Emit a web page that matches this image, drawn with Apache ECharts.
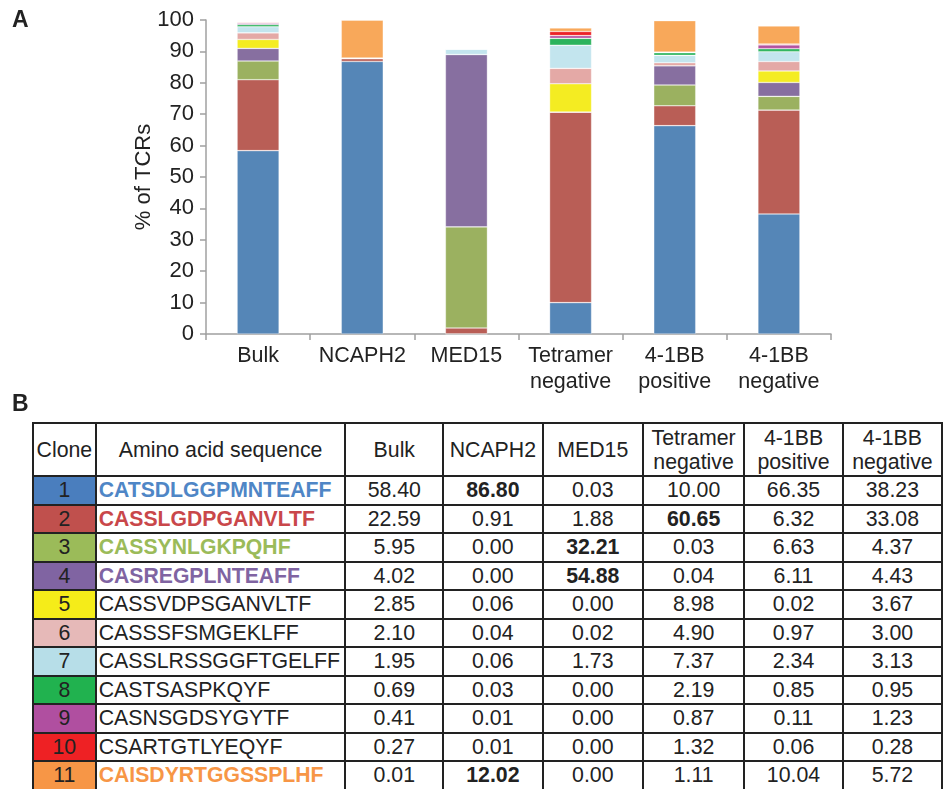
<!DOCTYPE html>
<html>
<head>
<meta charset="utf-8">
<script src="https://cdn.jsdelivr.net/npm/echarts@6/dist/echarts.min.js"></script>
<style>
  html, body { margin: 0; padding: 0; background: #fff; overflow: hidden; }
  body { width: 943px; height: 789px; position: relative; font-family: "Liberation Sans", Arial, sans-serif; color: #222; }
  #chart { position: absolute; left: 0; top: 0; width: 943px; height: 400px; }
  .panel { position: absolute; font-weight: bold; font-size: 23px; color: #222; }
  #tbl { position: absolute; left: 32px; top: 422px; border-collapse: collapse; table-layout: fixed; font-size: 21.3px; }
  #tbl td, #tbl th { border: 2px solid #222; padding: 0; text-align: center; font-weight: normal; white-space: nowrap; overflow: hidden; }
  #tbl th { height: 51px; line-height: 24px; }
  #tbl td { height: 26.5px; line-height: 26px; }
  #tbl td.seq { text-align: left; padding-left: 2px; }
  #tbl td.seq.hl { font-weight: bold; font-size: 21.2px; }
  #tbl td.b { font-weight: bold; }
</style>
</head>
<body>
<div id="chart"></div>
<div class="panel" style="left:12px; top:6px;">A</div>
<div class="panel" style="left:12px; top:390px;">B</div>
<table id="tbl"></table>
<script>
// Sample groups (x axis of the bar chart, columns of the table)
const groups = ['Bulk', 'NCAPH2', 'MED15', 'Tetramer\nnegative', '4-1BB\npositive', '4-1BB\nnegative'];

// Clone identifiers and their CDR3 amino acid sequences
const clones = ['1', '2', '3', '4', '5', '6', '7', '8', '9', '10', '11'];
const sequences = [
  'CATSDLGGPMNTEAFF', 'CASSLGDPGANVLTF', 'CASSYNLGKPQHF', 'CASREGPLNTEAFF',
  'CASSVDPSGANVLTF', 'CASSSFSMGEKLFF', 'CASSLRSSGGFTGELFF', 'CASTSASPKQYF',
  'CASNSGDSYGYTF', 'CSARTGTLYEQYF', 'CAISDYRTGGSSPLHF'
];

// % of TCRs per clone, one array per sample group
const bulk        = [58.40, 22.59, 5.95, 4.02, 2.85, 2.10, 1.95, 0.69, 0.41, 0.27, 0.01];
const ncaph2      = [86.80, 0.91, 0.00, 0.00, 0.06, 0.04, 0.06, 0.03, 0.01, 0.01, 12.02];
const med15       = [0.03, 1.88, 32.21, 54.88, 0.00, 0.02, 1.73, 0.00, 0.00, 0.00, 0.00];
const tetramerNeg = [10.00, 60.65, 0.03, 0.04, 8.98, 4.90, 7.37, 2.19, 0.87, 1.32, 1.11];
const bbPositive  = [66.35, 6.32, 6.63, 6.11, 0.02, 0.97, 2.34, 0.85, 0.11, 0.06, 10.04];
const bbNegative  = [38.23, 33.08, 4.37, 4.43, 3.67, 3.00, 3.13, 0.95, 1.23, 0.28, 5.72];
const groupValues = [bulk, ncaph2, med15, tetramerNeg, bbPositive, bbNegative];

// Y axis ticks
const yTicks = [0, 10, 20, 30, 40, 50, 60, 70, 80, 90, 100];

// Highlighted (dominant) values in the table: [clone index, group index]
const boldCells = [[0, 1], [10, 1], [2, 2], [3, 2], [1, 3]];

// Colours
const barColors = ['#5586b7', '#b95e56', '#9bb160', '#876fa0', '#f4ec22', '#e4a9a6',
                   '#c3e5ee', '#2bb35c', '#b452a0', '#ec2226', '#f8a85a'];
const cellColors = ['#4a7ebe', '#c0504d', '#9bbb59', '#8064a2', '#f5ec19', '#e6b9b8',
                    '#b7dee8', '#21b24f', '#b04fa0', '#ee2124', '#f79646'];
const seqColors = ['#4f86c6', '#c9474a', '#9bbb59', '#8064a2', null, null, null, null, null, null, '#f79646'];

// ---- Stacked bar chart ----
const chart = echarts.init(document.getElementById('chart'));
const series = clones.map((c, i) => ({
  name: 'Clone ' + c,
  type: 'bar',
  stack: 'tcr',
  barWidth: 42,
  data: groupValues.map(g => g[i]),
  itemStyle: { color: barColors[i], borderColor: 'rgba(255,255,255,0.55)', borderWidth: 0.6 }
}));

chart.setOption({
  animation: false,
  grid: { left: 206, right: 112, top: 20, height: 314 },
  xAxis: {
    type: 'category',
    data: groups,
    axisLine: { lineStyle: { color: '#a0a0a0', width: 1.5 } },
    axisTick: { show: true, length: 6, lineStyle: { color: '#a0a0a0', width: 1.5 } },
    axisLabel: { interval: 0, color: '#222', fontSize: 21.5, lineHeight: 26, margin: 9, fontFamily: 'Liberation Sans' }
  },
  yAxis: {
    type: 'value',
    min: yTicks[0],
    max: yTicks[yTicks.length - 1],
    interval: 10,
    name: '% of TCRs',
    nameLocation: 'middle',
    nameGap: 51,
    nameMoveOverlap: false,
    nameTextStyle: { color: '#222', fontSize: 22, fontFamily: 'Liberation Sans' },
    axisLine: { show: true, lineStyle: { color: '#a0a0a0', width: 1.5 } },
    axisTick: { show: true, length: 6, lineStyle: { color: '#a0a0a0', width: 1.5 } },
    axisLabel: { color: '#222', fontSize: 22, margin: 12, fontFamily: 'Liberation Sans' },
    splitLine: { show: false }
  },
  series: series
});

// ---- Table of clone frequencies ----
const colWidths = [63, 250, 100, 100, 102, 102, 100, 100];
const fmt = v => v.toFixed(2);
const tbl = document.getElementById('tbl');
const colgroup = document.createElement('colgroup');
colWidths.forEach(w => { const col = document.createElement('col'); col.style.width = w + 'px'; colgroup.appendChild(col); });
tbl.appendChild(colgroup);

const head = document.createElement('tr');
['Clone', 'Amino acid sequence'].concat(groups).forEach(h => {
  const th = document.createElement('th');
  th.innerHTML = h.replace('\n', '<br>');
  head.appendChild(th);
});
tbl.appendChild(head);

clones.forEach((c, i) => {
  const tr = document.createElement('tr');
  const tdC = document.createElement('td');
  tdC.textContent = c;
  tdC.style.background = cellColors[i];
  tr.appendChild(tdC);
  const tdS = document.createElement('td');
  tdS.className = 'seq';
  tdS.textContent = sequences[i];
  if (seqColors[i]) { tdS.style.color = seqColors[i]; tdS.classList.add('hl'); }
  tr.appendChild(tdS);
  groupValues.forEach((g, j) => {
    const td = document.createElement('td');
    td.textContent = fmt(g[i]);
    if (boldCells.some(b => b[0] === i && b[1] === j)) td.className = 'b';
    tr.appendChild(td);
  });
  tbl.appendChild(tr);
});
</script>
</body>
</html>
